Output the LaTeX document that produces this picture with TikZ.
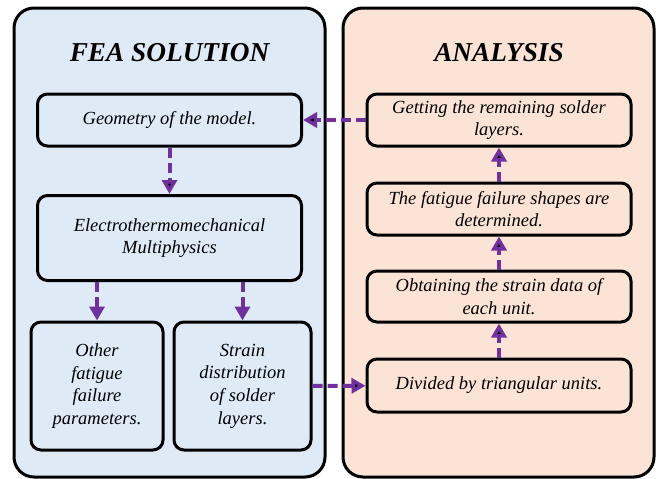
\documentclass[tikz,border=0pt]{standalone}
\usepackage{fontspec}
\setmainfont{Liberation Serif}
\usepackage{xcolor}
\definecolor{paleblue}{RGB}{222,234,246}
\definecolor{palepeach}{RGB}{251,228,213}
\definecolor{purpl}{RGB}{112,48,160}
\usetikzlibrary{arrows.meta,positioning}

\begin{document}
\begin{tikzpicture}[x=1pt,y=-1pt,semithick,font=\itshape\fontsize{18.5}{22.7}\selectfont]
        \tikzstyle{panel}=[draw=black,line width=3pt,rounded corners=20pt]
        \tikzstyle{title}=[font=\bfseries\itshape\fontsize{27.3}{30}\selectfont]
        \tikzstyle{step box}=[draw=black,line width=3pt,rounded corners=10pt,align=center,inner sep=2pt]
        \tikzstyle{wide}=[step box,minimum width=264pt,minimum height=52pt]
        \tikzstyle{flow}=[draw=purpl,line width=4pt,dash pattern=on 10pt off 5pt,
                          -{Triangle[length=14pt,width=15pt]}]

        \useasboundingbox (0,0) rectangle (656,479);

        % the two panels
        \draw[panel,fill=paleblue]  (14,8)  rectangle (325,477);
        \draw[panel,fill=palepeach] (343,8) rectangle (654,477);
        \node[title] (FEA) at (169.5,53) {FEA SOLUTION};
        \node[title] (ANA) at (499,53)   {ANALYSIS};

        % left column
        \node[wide] (GEO) at (169.5,120) {Geometry of the model.};
        \node[wide,minimum height=85pt] (EMP) [below of=GEO,node distance=118pt]
              {Electrothermomechanical\\Multiphysics};
        \node[step box,minimum width=132pt,minimum height=128pt] (OFP) at (97,386)
              {Other\\fatigue\\failure\\parameters.};
        \node[step box,minimum width=137pt,minimum height=128pt] (SDS) [right of=OFP,node distance=145.5pt]
              {Strain\\distribution\\of solder\\layers.};

        % right column
        \node[wide] (GRS) at (499,120) {Getting the remaining solder\\layers.};
        \node[wide] (FFS) [below of=GRS,node distance=89pt] {The fatigue failure shapes are\\determined.};
        \node[wide,minimum height=51pt] (OSD) [below of=FFS,node distance=87.5pt] {Obtaining the strain data of\\each unit.};
        \node[wide,minimum height=53pt] (DTU) [below of=OSD,node distance=89pt] {Divided by triangular units.};

        \path[flow] (GEO) edge (EMP)
                    (SDS) edge (DTU)
                    (DTU) edge (OSD)
                    (OSD) edge (FFS)
                    (FFS) edge (GRS)
                    (GRS) edge (GEO)
        ;
        \draw[flow] (EMP.south -| OFP.north) -- (OFP.north);
        \draw[flow] (EMP.south -| SDS.north) -- (SDS.north);
    \end{tikzpicture}
\end{document}
